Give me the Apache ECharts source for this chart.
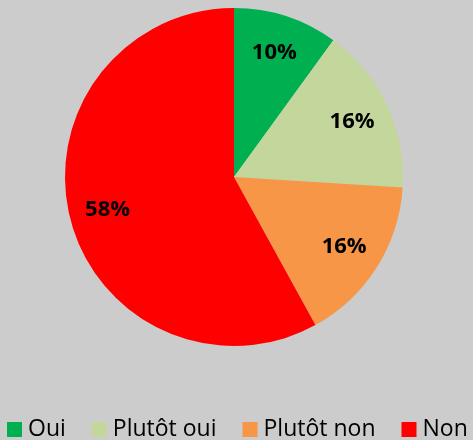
<!DOCTYPE html>
<html>
<head>
<meta charset="utf-8">
<script src="https://cdn.jsdelivr.net/npm/echarts@6/dist/echarts.min.js"></script>
<style>
html, body { margin: 0; padding: 0; background: #cccccc; }
#main { width: 473px; height: 440px; }
</style>
</head>
<body>
<div id="main"></div>
<script>
var chartDom = document.getElementById('main');
var myChart = echarts.init(chartDom);
var option;

var names = ['Oui', 'Plutôt oui', 'Plutôt non', 'Non'];
var values = [10, 16, 16, 58];
var colors = ['#00b050', '#c3d69b', '#f79646', '#ff0000'];

var pieData = names.map(function (n, i) {
  return { name: n, value: values[i], itemStyle: { color: colors[i] } };
});
var labelData = names.map(function (n, i) {
  return { name: n, value: values[i] };
});

option = {
  backgroundColor: '#cccccc',
  animation: false,
  legend: {
    data: names,
    left: 2,
    top: 413,
    itemWidth: 15,
    itemHeight: 15,
    itemGap: 26,
    icon: 'rect',
    textStyle: {
      fontFamily: 'Open Sans',
      fontSize: 23,
      color: '#000',
      padding: [0, 0, 0, 1]
    }
  },
  series: [
    {
      type: 'pie',
      center: [234, 177],
      radius: [0, 169],
      startAngle: 90,
      clockwise: true,
      label: { show: false },
      labelLine: { show: false },
      emphasis: { disabled: true },
      data: pieData
    },
    {
      // invisible ring only used to place the labels further out
      type: 'pie',
      center: [234, 177],
      radius: [86, 169],
      startAngle: 90,
      clockwise: true,
      silent: true,
      itemStyle: { color: 'rgba(0,0,0,0)' },
      label: {
        show: true,
        position: 'inside',
        formatter: '{d}%',
        fontFamily: 'Open Sans',
        fontWeight: 'bold',
        fontSize: 22,
        color: '#000'
      },
      labelLine: { show: false },
      data: labelData
    }
  ]
};

option && myChart.setOption(option);
</script>
</body>
</html>
